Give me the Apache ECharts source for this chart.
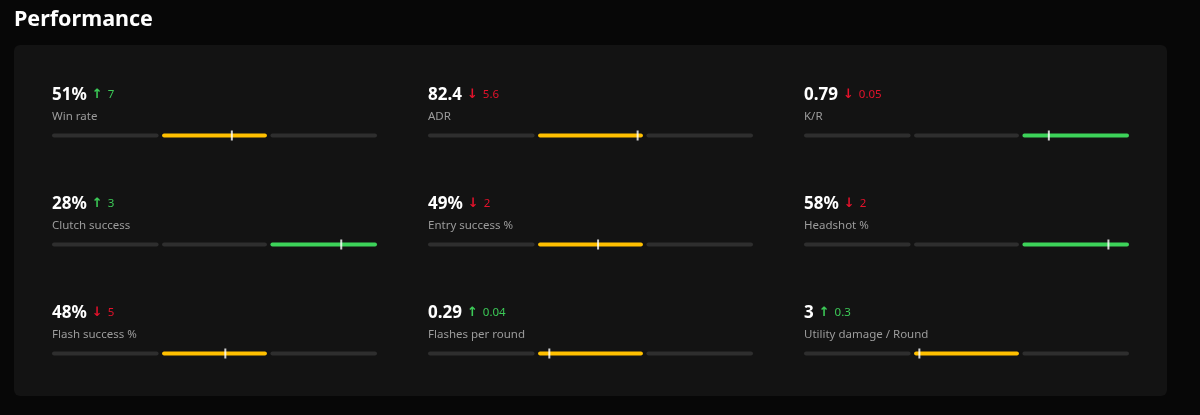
<!DOCTYPE html>
<html>
<head>
<meta charset="utf-8">
<title>Performance</title>
<script src="https://cdn.jsdelivr.net/npm/echarts@6/dist/echarts.min.js"></script>
<style>
    html, body { margin: 0; padding: 0; background: #070707; }
    #main { width: 1200px; height: 415px; }
</style>
</head>
<body>
<div id="main"></div>
<script>
// metrics
var labels = ['Win rate', 'ADR', 'K/R', 'Clutch success', 'Entry success %', 'Headshot %',
    'Flash success %', 'Flashes per round', 'Utility damage / Round'];
var values = ['51%', '82.4', '0.79', '28%', '49%', '58%', '48%', '0.29', '3'];
var deltas = [7, -5.6, -0.05, 3, -2, -2, -5, 0.04, 0.3];
// which of the 3 segments is lit (0 low, 1 mid, 2 high)
var levels = [1, 1, 2, 2, 1, 2, 1, 1, 1];
// marker position on the 0..3 scale
var positions = [1.66, 1.935, 2.26, 2.67, 1.57, 2.81, 1.60, 1.12, 1.065];
var segments = [[0, 1], [1, 2], [2, 3]];

var levelColors = ['#e3122b', '#ffc000', '#3dd35a'];
var trackColor = '#2e2e2e';

var colLeft = [52, 428, 804];
var rowTop = [88, 197, 306];

var myChart = echarts.init(document.getElementById('main'));

var grids = [], xAxes = [], yAxes = [], series = [];
var titles = [{
    text: 'Performance',
    left: 14,
    top: 9,
    padding: 0,
    textStyle: { color: '#ffffff', fontSize: 21.5, fontWeight: 'bold', fontFamily: 'Noto Sans' }
}];

labels.forEach(function(label, i) {
    var col = i % 3, row = Math.floor(i / 3);
    var left = colLeft[col], top = rowTop[row];
    var d = deltas[i];
    var key = d >= 0 ? 'up' : 'down';

    titles.push({
        text: '{v|' + values[i] + '} {' + key + 'A|' + (d >= 0 ? '↑' : '↓') + '} {' + key + '|' + Math.abs(d) + '}',
        left: left,
        top: top - 3,
        padding: 0,
        textStyle: {
            rich: {
                v: { color: '#ffffff', fontSize: 17, fontWeight: 'bold', fontFamily: 'Noto Sans', lineHeight: 20 },
                upA: { color: '#3cc957', fontSize: 13, fontWeight: 'bold', fontFamily: 'DejaVu Sans', lineHeight: 20 },
                downA: { color: '#e3122b', fontSize: 13, fontWeight: 'bold', fontFamily: 'DejaVu Sans', lineHeight: 20 },
                up: { color: '#3cc957', fontSize: 11.5, fontWeight: 'normal', fontFamily: 'Noto Sans', lineHeight: 20 },
                down: { color: '#e3122b', fontSize: 11.5, fontWeight: 'normal', fontFamily: 'Noto Sans', lineHeight: 20 }
            }
        }
    });
    titles.push({
        text: label,
        left: left,
        top: top + 23,
        padding: 0,
        textStyle: { color: '#9c9c9c', fontSize: 11.5, fontWeight: 'normal', fontFamily: 'Noto Sans' }
    });

    grids.push({ left: left, top: top + 42.5, width: 325, height: 10 });
    xAxes.push({ gridIndex: i, type: 'value', min: 0, max: 3, show: false });
    yAxes.push({ gridIndex: i, type: 'value', min: 0, max: 1, show: false });

    var lit = levels[i];
    series.push({
        type: 'custom',
        xAxisIndex: i,
        yAxisIndex: i,
        silent: true,
        data: segments.map(function(s, k) { return [s[0], s[1], k]; }),
        renderItem: function(params, api) {
            var a = api.coord([api.value(0), 0.5]);
            var b = api.coord([api.value(1), 0.5]);
            var k = api.value(2);
            var x0 = a[0] + (k > 0 ? 1.75 : 0);
            var x1 = b[0] - (k < 2 ? 1.75 : 0);
            var on = k === lit;
            return {
                type: 'rect',
                shape: { x: x0, y: a[1] - 2, width: x1 - x0, height: 4, r: 2 },
                style: { fill: on ? levelColors[lit] : trackColor }
            };
        }
    });
    series.push({
        type: 'scatter',
        xAxisIndex: i,
        yAxisIndex: i,
        silent: true,
        symbol: 'rect',
        symbolSize: [2, 10],
        itemStyle: { color: '#ffffff' },
        data: [[positions[i], 0.5]],
        z: 5
    });
});

var option = {
    backgroundColor: '#070707',
    animation: false,
    title: titles,
    graphic: [{
        type: 'rect',
        shape: { x: 14, y: 45, width: 1153, height: 351, r: 6 },
        style: { fill: '#131313' },
        z: -10
    }],
    grid: grids,
    xAxis: xAxes,
    yAxis: yAxes,
    series: series
};

myChart.setOption(option);
</script>
</body>
</html>
